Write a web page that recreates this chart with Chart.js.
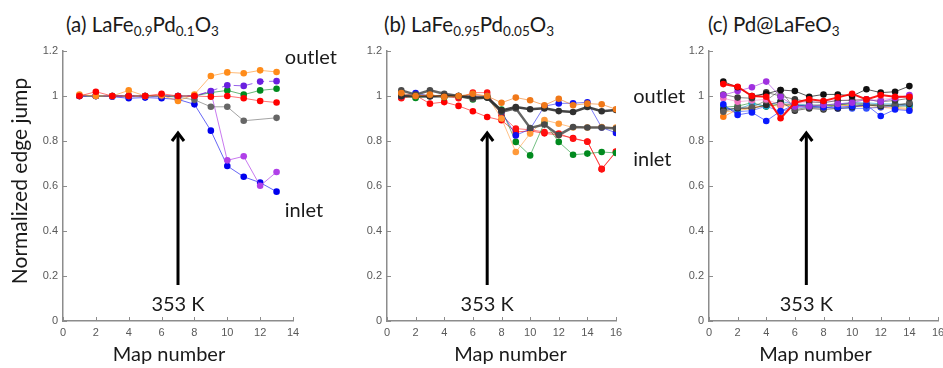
<!DOCTYPE html>
<html>
<head>
<meta charset="utf-8">
<script src="https://cdn.jsdelivr.net/npm/chart.js@4.4.1/dist/chart.umd.min.js"></script>
<style>
  body { margin: 0; width: 943px; height: 368px; overflow: hidden; background: #fff; position: relative; font-family: Lato, 'Open Sans', sans-serif; }
  canvas { position: absolute; top: 0; }
  .ttl { position: absolute; top: 12px; font-size: 20.5px; color: #1a1a1a; white-space: nowrap; }
  .ttl sub { font-size: 13.5px; vertical-align: -4px; line-height: 0; }
</style>
</head>
<body>
<div class="ttl" style="left:66px">(a) LaFe<sub>0.9</sub>Pd<sub>0.1</sub>O<sub>3</sub></div>
<div class="ttl" style="left:384px">(b) LaFe<sub>0.95</sub>Pd<sub>0.05</sub>O<sub>3</sub></div>
<div class="ttl" style="left:708px">(c) Pd@LaFeO<sub>3</sub></div>
<canvas id="ca" width="345" height="368" style="left:0"></canvas>
<canvas id="cb" width="345" height="368" style="left:345px"></canvas>
<canvas id="cc" width="270" height="368" style="left:680px"></canvas>
<script>
// map numbers for each sample
const mapA = [1, 2, 3, 4, 5, 6, 7, 8, 9, 10, 11, 12, 13];
const mapB = [1, 2, 3, 4, 5, 6, 7, 8, 9, 10, 11, 12, 13, 14, 15, 16];
const mapC = [1, 2, 3, 4, 5, 6, 7, 8, 9, 10, 11, 12, 13, 14];

const yTicks = [0, 0.2, 0.4, 0.6, 0.8, 1, 1.2];

// (a) LaFe0.9Pd0.1O3
const aOrange = [1.006, 1.0, 1.0, 1.025, 1.0, 1.003, 0.978, 1.007, 1.089, 1.105, 1.101, 1.114, 1.107];
const aViolet = [1.0, 1.0, 1.0, 1.0, 1.0, 1.0, 1.0, 1.0, 1.022, 1.048, 1.045, 1.064, 1.066];
const aGreen  = [1.0, 1.0, 1.0, 1.0, 1.0, 1.0, 1.0, 1.0, 1.015, 1.025, 1.006, 1.025, 1.032];
const aRed    = [1.0, 1.019, 1.0, 1.0, 1.0, 1.01, 1.0, 1.0, 0.997, 1.0, 0.99, 0.978, 0.971];
const aGray   = [1.0, 1.0, 1.0, 1.0, 1.0, 1.0, 0.995, 0.983, 0.952, 0.952, 0.89, null, 0.903];
const aBlue   = [1.0, 1.0, 0.997, 0.99, 0.993, 0.99, 0.985, 0.963, 0.846, 0.689, 0.641, 0.615, 0.575];
const aPurple = [1.0, 1.0, 1.0, 1.0, 1.0, 1.0, 1.0, 1.0, 1.02, 0.714, 0.732, 0.601, 0.662];

// (b) LaFe0.95Pd0.05O3
const bOrange1 = [1.013, 1.0, 1.006, 0.996, 1.0, 1.01, 1.0, 0.97, 0.993, 0.981, 0.959, 0.988, 0.959, 0.966, 0.963, 0.941];
const bDark1   = [1.0, 1.0, 0.998, 1.0, 1.0, 0.995, 0.993, 0.936, 0.951, 0.941, 0.945, 0.933, 0.929, 0.951, 0.932, 0.938];
const bDark2   = [1.025, 1.006, 1.025, 1.01, 1.0, 0.988, 0.993, 0.93, 0.945, 0.858, 0.873, 0.827, 0.862, 0.86, 0.86, 0.855];
const bBlue    = [1.0, 1.013, 1.0, 1.0, 1.0, 1.0, 1.0, 0.93, 0.825, 0.853, 0.955, 0.967, 0.968, 0.972, 0.86, 0.836];
const bOrange2 = [1.005, 1.0, 1.0, 1.0, 1.0, 1.005, 1.0, 0.9, 0.751, 0.833, 0.893, 0.877, 0.86, 0.86, 0.862, 0.86];
const bGreen   = [1.0, 0.991, 1.0, 0.995, 1.0, 0.985, 0.995, 0.94, 0.796, 0.736, 0.881, 0.796, 0.739, 0.744, 0.751, 0.747];
const bRed1    = [0.993, 1.003, 0.966, 0.973, 0.956, 0.932, 0.907, 0.892, 0.84, 0.845, 0.834, 0.827, 0.813, 0.797, 0.676, 0.753];
const bRed2    = [0.99, 1.0, 1.0, 1.0, 0.99, 1.015, 1.015, 0.914, 0.855, 0.85, 0.84, 0.833, 0.81, 0.798, 0.674, 0.751];

// (c) Pd@LaFeO3
const cBlack  = [1.064, 1.039, 1.0, 1.01, 1.027, 1.022, 0.997, 1.007, 1.007, 1.0, 1.03, 1.015, 1.019, 1.044];
const cRed    = [1.053, 1.041, 1.0, 0.997, 0.901, 0.97, 0.985, 0.978, 0.994, 1.01, 0.985, 1.004, 0.997, 0.997];
const cPurple = [1.004, 1.022, 1.039, 1.064, 0.997, 0.953, 0.955, 0.96, 0.965, 0.97, 0.985, 0.975, 0.99, 1.004];
const cBlue   = [0.963, 0.916, 0.927, 0.889, 0.933, 0.96, 0.955, 0.95, 0.95, 0.955, 0.96, 0.911, 0.94, 0.935];
const cDark   = [1.007, 0.993, 0.99, 1.016, 1.0, 0.985, 0.975, 0.97, 0.98, 0.98, 0.985, 0.975, 0.98, 0.99];
const cGray   = [0.93, 0.95, 0.95, 0.98, 1.027, 0.94, 0.95, 0.945, 0.96, 0.97, 0.965, 0.96, 0.96, 0.97];
const cTeal   = [0.945, 0.94, 0.965, 0.955, 0.975, 0.965, 0.96, 0.96, 0.965, 0.97, 0.97, 0.965, 0.965, 0.96];
const cGreen  = [0.95, 0.955, 0.97, 0.953, 0.965, 0.96, 0.955, 0.955, 0.96, 0.965, 0.96, 0.96, 0.955, 0.955];
const cOrange = [0.908, 0.94, 0.95, 0.955, 0.963, 0.955, 0.955, 0.96, 0.955, 0.96, 0.95, 0.95, 0.945, 0.94];
const cAmber  = [0.93, 0.935, 0.945, 0.96, 0.955, 0.96, 0.96, 0.96, 0.965, 0.955, 0.96, 0.955, 0.95, 0.945];
const cPink   = [0.99, 0.975, 0.98, 0.985, 0.96, 0.97, 0.97, 0.975, 0.98, 0.985, 0.98, 0.985, 0.99, 1.0];
const cBlue2  = [0.95, 0.93, 0.935, 0.955, 0.93, 0.95, 0.95, 0.95, 0.945, 0.945, 0.945, 0.95, 0.955, 0.96];
const cBlack2 = [0.94, 0.945, 0.945, 0.96, 0.975, 0.935, 0.945, 0.94, 0.945, 0.95, 0.96, 0.955, 0.96, 0.965];

const axisGray = '#8c8c8c';
const tickFont = "'Liberation Sans Narrow', 'Liberation Sans', Arial, sans-serif";
const textFont = "Lato, 'Open Sans', sans-serif";

function pts(xs, ys) {
  return xs.map((x, i) => ({ x: x, y: ys[i] }));
}

function ser(xs, ys, color, lineAlpha, extra) {
  const r = parseInt(color.slice(1, 3), 16), g = parseInt(color.slice(3, 5), 16), b = parseInt(color.slice(5, 7), 16);
  return Object.assign({
    data: pts(xs, ys),
    borderColor: `rgba(${r},${g},${b},${lineAlpha})`,
    backgroundColor: color,
    pointBackgroundColor: color,
    pointBorderColor: color,
    pointRadius: 3.3,
    pointBorderWidth: 0,
    borderWidth: 1,
    spanGaps: true,
    tension: 0
  }, extra || {});
}

// inward tick marks, axis titles, the 353 K arrow and side notes
const marks = {
  id: 'marks',
  afterDraw(chart, args, o) {
    const { ctx, chartArea: a, scales: { x, y } } = chart;
    ctx.save();
    ctx.strokeStyle = axisGray;
    ctx.lineWidth = 1;
    x.ticks.forEach(t => {
      const px = Math.round(x.getPixelForValue(t.value)) + 0.5;
      ctx.beginPath(); ctx.moveTo(px, a.bottom); ctx.lineTo(px, a.bottom - 4); ctx.stroke();
    });
    y.ticks.forEach(t => {
      const py = Math.round(y.getPixelForValue(t.value)) + 0.5;
      ctx.beginPath(); ctx.moveTo(a.left, py); ctx.lineTo(a.left + 4, py); ctx.stroke();
    });

    const ax = x.getPixelForValue(o.arrowX);
    const yb = y.getPixelForValue(0.16), yt = y.getPixelForValue(0.84);
    ctx.strokeStyle = '#000';
    ctx.lineWidth = 3;
    ctx.beginPath(); ctx.moveTo(ax, yb); ctx.lineTo(ax, yt + 1); ctx.stroke();
    ctx.beginPath(); ctx.moveTo(ax - 6, yt + 9); ctx.lineTo(ax, yt + 1); ctx.lineTo(ax + 6, yt + 9); ctx.stroke();

    ctx.fillStyle = '#1a1a1a';
    ctx.font = '20px ' + textFont;
    ctx.textAlign = 'center';
    ctx.textBaseline = 'middle';
    ctx.fillText('353 K', ax, y.getPixelForValue(0.075));
    ctx.fillText('Map number', (a.left + a.right) / 2 + o.titleShift, 355);

    if (o.yTitle) {
      ctx.save();
      ctx.font = '21px ' + textFont;
      ctx.translate(20, 181);
      ctx.rotate(-Math.PI / 2);
      ctx.fillText(o.yTitle, 0, 0);
      ctx.restore();
    }

    ctx.textAlign = 'left';
    (o.notes || []).forEach(n => {
      ctx.fillText(n.text, x.getPixelForValue(n.x), y.getPixelForValue(n.y));
    });
    ctx.restore();
  }
};

function makeChart(id, xMax, yWidth, padRight, datasets, opts) {
  return new Chart(document.getElementById(id), {
    type: 'line',
    data: { datasets: datasets },
    options: {
      responsive: false,
      animation: false,
      devicePixelRatio: 1,
      layout: { padding: { top: 51, right: padRight, left: 0, bottom: 0 } },
      plugins: {
        legend: { display: false },
        tooltip: { enabled: false },
        marks: opts
      },
      scales: {
        x: {
          type: 'linear',
          min: 0,
          max: xMax,
          afterFit: s => { s.height = 47; },
          ticks: { stepSize: 2, padding: 5, color: '#595959', font: { family: tickFont, size: 11 } },
          grid: { display: false, drawTicks: false },
          border: { color: axisGray, width: 1.5 }
        },
        y: {
          min: 0,
          max: 1.2,
          afterFit: s => { s.width = yWidth; },
          afterBuildTicks: s => { s.ticks = yTicks.map(v => ({ value: v })); },
          ticks: { padding: 5, color: '#595959', font: { family: tickFont, size: 11 }, callback: v => String(v) },
          grid: { display: false, drawTicks: false },
          border: { color: axisGray, width: 1.5 }
        }
      }
    },
    plugins: [marks]
  });
}

makeChart('ca', 14, 63, 52, [
  ser(mapA, aRed, '#ff0000', 0.55),
  ser(mapA, aOrange, '#ff8c1a', 0.6),
  ser(mapA, aViolet, '#6a1fe0', 0.7, { borderDash: [7, 5] }),
  ser(mapA, aGreen, '#008a1e', 0.6),
  ser(mapA, aGray, '#666666', 0.6),
  ser(mapA, aPurple, '#b040e8', 0.7),
  ser(mapA, aBlue, '#0000ee', 0.6)
], {
  arrowX: 7, titleShift: -9, yTitle: 'Normalized edge jump',
  notes: [{ text: 'outlet', x: 13.5, y: 1.173 }, { text: 'inlet', x: 13.5, y: 0.493 }]
});

makeChart('cb', 16, 42, 74, [
  ser(mapB, bOrange1, '#f07818', 0.6),
  ser(mapB, bDark1, '#303030', 0.9, { borderWidth: 2.5 }),
  ser(mapB, bDark2, '#4a4a4a', 0.85, { borderWidth: 2.5 }),
  ser(mapB, bOrange2, '#ff9a3a', 0.6),
  ser(mapB, bBlue, '#1010f0', 0.55),
  ser(mapB, bGreen, '#008a1e', 0.55),
  ser(mapB, bRed2, '#ff1010', 0.55),
  ser(mapB, bRed1, '#ff0000', 0.6)
], {
  arrowX: 7, titleShift: 9,
  notes: [{ text: 'outlet', x: 17.2, y: 0.996 }, { text: 'inlet', x: 17.2, y: 0.716 }]
});

makeChart('cc', 16, 29, 12, [
  ser(mapC, cRed, '#ff0000', 0.9, { borderWidth: 2 }),
  ser(mapC, cBlack, '#101010', 0.7),
  ser(mapC, cPurple, '#a030e0', 0.6),
  ser(mapC, cDark, '#3a3a3a', 0.6),
  ser(mapC, cBlue, '#0a1aff', 0.6),
  ser(mapC, cPink, '#f070c0', 0.5),
  ser(mapC, cGray, '#5a5a5a', 0.6),
  ser(mapC, cBlack2, '#2a2a2a', 0.6),
  ser(mapC, cTeal, '#12a8d8', 0.6),
  ser(mapC, cGreen, '#1a8a2a', 0.6),
  ser(mapC, cBlue2, '#3050ff', 0.6),
  ser(mapC, cAmber, '#ffa030', 0.6),
  ser(mapC, cOrange, '#ff7a10', 0.6)
], { arrowX: 6.8, titleShift: -8, notes: [] });
</script>
</body>
</html>
